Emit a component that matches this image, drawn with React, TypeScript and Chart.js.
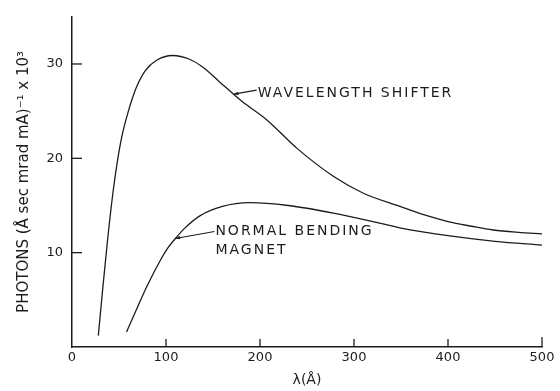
import React, { useEffect, useRef } from 'react';
import { Chart, registerables } from 'chart.js';

Chart.register(...registerables);

// Wavelength shifter curve (lambda in Å, photons ×10^3)
const shifterLambda = [28, 33, 38, 43, 48, 53, 60, 68, 78, 90, 107, 125, 140, 157, 180, 207, 240, 278, 310, 349, 375, 400, 425, 448, 475, 500];
const shifterPhotons = [1.2, 6.5, 11.5, 15.9, 19.5, 22.3, 25.0, 27.4, 29.3, 30.4, 30.9, 30.5, 29.6, 28.1, 26.1, 24.1, 21.0, 18.1, 16.3, 14.9, 14.0, 13.3, 12.8, 12.4, 12.15, 12.0];

// Normal bending magnet curve
const magnetLambda = [58, 70, 80, 94, 102, 110, 120, 136, 160, 189, 230, 278, 320, 350, 400, 450, 500];
const magnetPhotons = [1.6, 4.3, 6.5, 9.2, 10.5, 11.5, 12.6, 13.9, 14.9, 15.3, 15.0, 14.2, 13.3, 12.6, 11.8, 11.2, 10.8];

const xTicks = [0, 100, 200, 300, 400, 500];
const yTicks = [10, 20, 30];

const xTitle = 'λ(Å)';
const yTitle = 'PHOTONS (Å sec mrad mA)⁻¹ x 10³';
const shifterLabel = ['WAVELENGTH SHIFTER'];
const magnetLabel = ['NORMAL BENDING', 'MAGNET'];
// points on curves where the label leaders touch
const shifterAnchor = { x: 172, y: 26.8 };
const magnetAnchor = { x: 110, y: 11.5 };

const INK = '#1c1c1c';
const FONT = 'DejaVu Sans';

const annotate = {
  id: 'annotate',
  afterDraw(chart: any) {
    const ctx = chart.ctx as CanvasRenderingContext2D;
    const xs = chart.scales.x;
    const ys = chart.scales.y;
    ctx.save();
    ctx.strokeStyle = INK;
    ctx.fillStyle = INK;
    ctx.lineWidth = 1.3;
    // inward tick marks
    xTicks.forEach((v) => {
      if (v === 0) return;
      const px = xs.getPixelForValue(v);
      ctx.beginPath();
      ctx.moveTo(px, ys.bottom);
      ctx.lineTo(px, ys.bottom - (v === 500 ? 10 : 8));
      ctx.stroke();
    });
    yTicks.forEach((v) => {
      const py = ys.getPixelForValue(v);
      ctx.beginPath();
      ctx.moveTo(xs.left, py);
      ctx.lineTo(xs.left + 10, py);
      ctx.stroke();
    });

    const leader = (tx: number, ty: number, ex: number, ey: number) => {
      ctx.lineWidth = 1.1;
      ctx.beginPath();
      ctx.moveTo(ex, ey);
      ctx.lineTo(tx, ty);
      ctx.stroke();
      const ang = Math.atan2(ty - ey, tx - ex);
      const L = 5;
      ctx.beginPath();
      ctx.moveTo(tx, ty);
      ctx.lineTo(tx - L * Math.cos(ang - 0.35), ty - L * Math.sin(ang - 0.35));
      ctx.lineTo(tx - L * Math.cos(ang + 0.35), ty - L * Math.sin(ang + 0.35));
      ctx.closePath();
      ctx.fill();
    };

    ctx.font = `14px "${FONT}"`;
    (ctx as any).letterSpacing = '2px';
    ctx.textBaseline = 'middle';
    ctx.textAlign = 'left';

    const sx = xs.getPixelForValue(shifterAnchor.x);
    const sy = ys.getPixelForValue(shifterAnchor.y);
    leader(sx, sy, sx + 23, sy - 4);
    shifterLabel.forEach((t, i) => ctx.fillText(t, sx + 24, sy - 1 + i * 19));

    const mx = xs.getPixelForValue(magnetAnchor.x);
    const my = ys.getPixelForValue(magnetAnchor.y);
    leader(mx, my, mx + 39, my - 7);
    magnetLabel.forEach((t, i) => ctx.fillText(t, mx + 40, my - 7 + i * 19));

    ctx.restore();
  },
};

export default function App() {
  const ref = useRef<HTMLCanvasElement>(null);
  useEffect(() => {
    if (!ref.current) return;
    const chart = new Chart(ref.current, {
      type: 'line',
      data: {
        datasets: [
          {
            label: 'Wavelength shifter',
            data: shifterLambda.map((l, i) => ({ x: l, y: shifterPhotons[i] })),
            borderColor: INK,
            borderWidth: 1.3,
            pointRadius: 0,
            cubicInterpolationMode: 'monotone',
            fill: false,
          },
          {
            label: 'Normal bending magnet',
            data: magnetLambda.map((l, i) => ({ x: l, y: magnetPhotons[i] })),
            borderColor: INK,
            borderWidth: 1.3,
            pointRadius: 0,
            cubicInterpolationMode: 'monotone',
            fill: false,
          },
        ],
      },
      options: {
        responsive: false,
        animation: false,
        devicePixelRatio: 1,
        layout: { padding: { top: 15, right: 18, left: 0, bottom: 0 } },
        plugins: { legend: { display: false }, tooltip: { enabled: false } },
        scales: {
          x: {
            type: 'linear',
            min: 0,
            max: 500,
            grid: { display: true, drawOnChartArea: false, drawTicks: false },
            border: { display: true, color: INK, width: 1.5 },
            afterBuildTicks: (s: any) => {
              s.ticks = xTicks.map((v) => ({ value: v }));
            },
            ticks: {
              color: INK,
              font: { family: FONT, size: 13 },
              padding: 3,
              maxRotation: 0,
              autoSkip: false,
            },
            title: {
              display: true,
              text: xTitle,
              color: INK,
              font: { family: FONT, size: 14 },
              padding: { top: 0, bottom: 2 },
            },
            afterFit: (s: any) => {
              s.height = 44;
            },
          },
          y: {
            type: 'linear',
            min: 0,
            max: 35,
            grid: { display: true, drawOnChartArea: false, drawTicks: false },
            border: { display: true, color: INK, width: 1.5 },
            afterBuildTicks: (s: any) => {
              s.ticks = yTicks.map((v) => ({ value: v }));
            },
            ticks: {
              color: INK,
              font: { family: FONT, size: 13 },
              padding: 9,
            },
            title: {
              display: true,
              text: yTitle,
              color: INK,
              font: { family: FONT, size: 15 },
              padding: { top: 15, bottom: 0 },
            },
            afterFit: (s: any) => {
              s.width = 72;
            },
          },
        },
      },
      plugins: [annotate],
    } as any);
    return () => chart.destroy();
  }, []);
  return (
    <div style={{ position: 'fixed', left: 0, top: 0, width: 560, height: 391, background: '#fff' }}>
      <canvas ref={ref} width={560} height={391} style={{ display: 'block' }} />
    </div>
  );
}
